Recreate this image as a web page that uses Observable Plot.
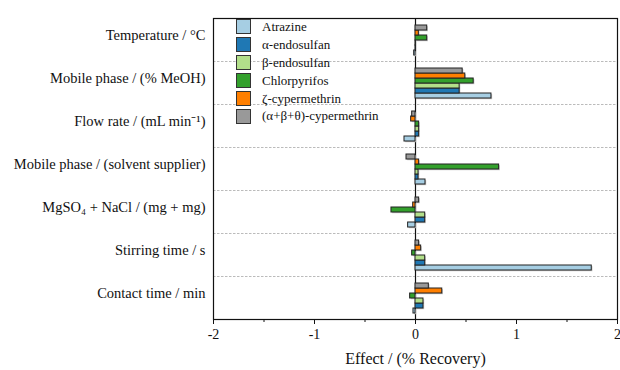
<!DOCTYPE html>
<html><head><meta charset="utf-8">
<script src="https://cdn.jsdelivr.net/npm/d3@7"></script>
<script src="https://cdn.jsdelivr.net/npm/@observablehq/plot@0.6"></script>
<style>
body{margin:0;background:#fff;}
#wrap{position:relative;width:620px;height:370px;}
#wrap svg text{font-family:"Liberation Serif",serif;}
#legend{position:absolute;left:236px;top:18px;font-family:"Liberation Serif",serif;font-size:13px;color:#111;}
.row{display:flex;align-items:center;height:17.9px;}
.sw{width:13px;height:13px;border:1px solid #333;margin-right:11px;box-sizing:content-box;}
</style></head><body>
<div id="wrap"><div id="legend"></div></div>
<script>
const categories = ["Temperature / °C","Mobile phase / (% MeOH)","Flow rate / (mL min⁻¹)","Mobile phase / (solvent supplier)","MgSO₄ + NaCl / (mg + mg)","Stirring time / s","Contact time / min"];
const compounds = ["Atrazine","α-endosulfan","β-endosulfan","Chlorpyrifos","ζ-cypermethrin","(α+β+θ)-cypermethrin"];
const colors = ["#a6cee3","#1f78b4","#b2df8a","#33a02c","#ff7f00","#999999"];
const atrazine     = [-0.013, 0.752, -0.109, 0.099, -0.073, 1.745, -0.020];
const alphaEndo    = [0.004, 0.437, 0.036, 0.030, 0.096, 0.096, 0.079];
const betaEndo     = [0.004, 0.437, 0.036, 0.030, 0.096, 0.096, 0.079];
const chlorpyrifos = [0.116, 0.576, 0.036, 0.828, -0.238, -0.033, -0.053];
const zetaCyp      = [0.033, 0.493, -0.043, 0.036, -0.023, 0.056, 0.265];
const abtCyp       = [0.116, 0.467, -0.033, -0.089, 0.036, 0.036, 0.132];
const xTicks = [-2, -1, 0, 1, 2];
const xMinorTicks = [-1.5, -0.5, 0.5, 1.5];

const series = [atrazine, alphaEndo, betaEndo, chlorpyrifos, zetaCyp, abtCyp];
const data = compounds.flatMap((c, i) => categories.map((cat, j) => ({compound: c, category: cat, value: series[i][j]})));

const plot = Plot.plot({
  width: 620, height: 370,
  marginLeft: 213, marginRight: 3, marginTop: 16, marginBottom: 50,
  style: {fontFamily: "Liberation Serif, serif", fontSize: "13px", color: "#111", background: "#fff"},
  x: {domain: [-2, 2]},
  y: {domain: compounds.slice().reverse(), paddingInner: 0, paddingOuter: 0.72, axis: null},
  fy: {domain: categories, padding: 0},
  color: {domain: compounds, range: colors},
  marks: [
    Plot.frame({anchor: "top", stroke: "#bbb", strokeDasharray: "1.5,2.5"}),
    Plot.ruleX([0], {stroke: "#111", strokeWidth: 1.2}),
    Plot.barX(data, {fy: "category", y: "compound", x: "value", fill: "#c4c4c4", dx: 1.2, dy: 1.2}),
    Plot.barX(data, {fy: "category", y: "compound", x: "value", fill: "compound", stroke: "#222", strokeWidth: 1}),
    Plot.frame({facet: "super", stroke: "#111", strokeWidth: 1.2}),
    Plot.axisX({ticks: xTicks, tickSize: 5, tickPadding: 5, tickFormat: d => String(d), fontSize: 14, label: null}),
    Plot.axisX({ticks: xMinorTicks, tickSize: 3, tickFormat: () => "", label: null}),
    Plot.axisX({ticks: [], label: "Effect / (% Recovery)", labelAnchor: "center", labelArrow: "none", labelOffset: 44, fontSize: 16}),
    Plot.axisFy({anchor: "left", tickSize: 0, tickPadding: 8, fontSize: 14.5, label: null, dy: -5})
  ]
});
document.getElementById("wrap").prepend(plot);

const lg = document.getElementById("legend");
compounds.forEach((c, i) => {
  const r = document.createElement("div"); r.className = "row";
  const s = document.createElement("div"); s.className = "sw"; s.style.background = colors[i];
  const t = document.createElement("span"); t.textContent = c;
  r.append(s, t); lg.append(r);
});
</script>
</body></html>
